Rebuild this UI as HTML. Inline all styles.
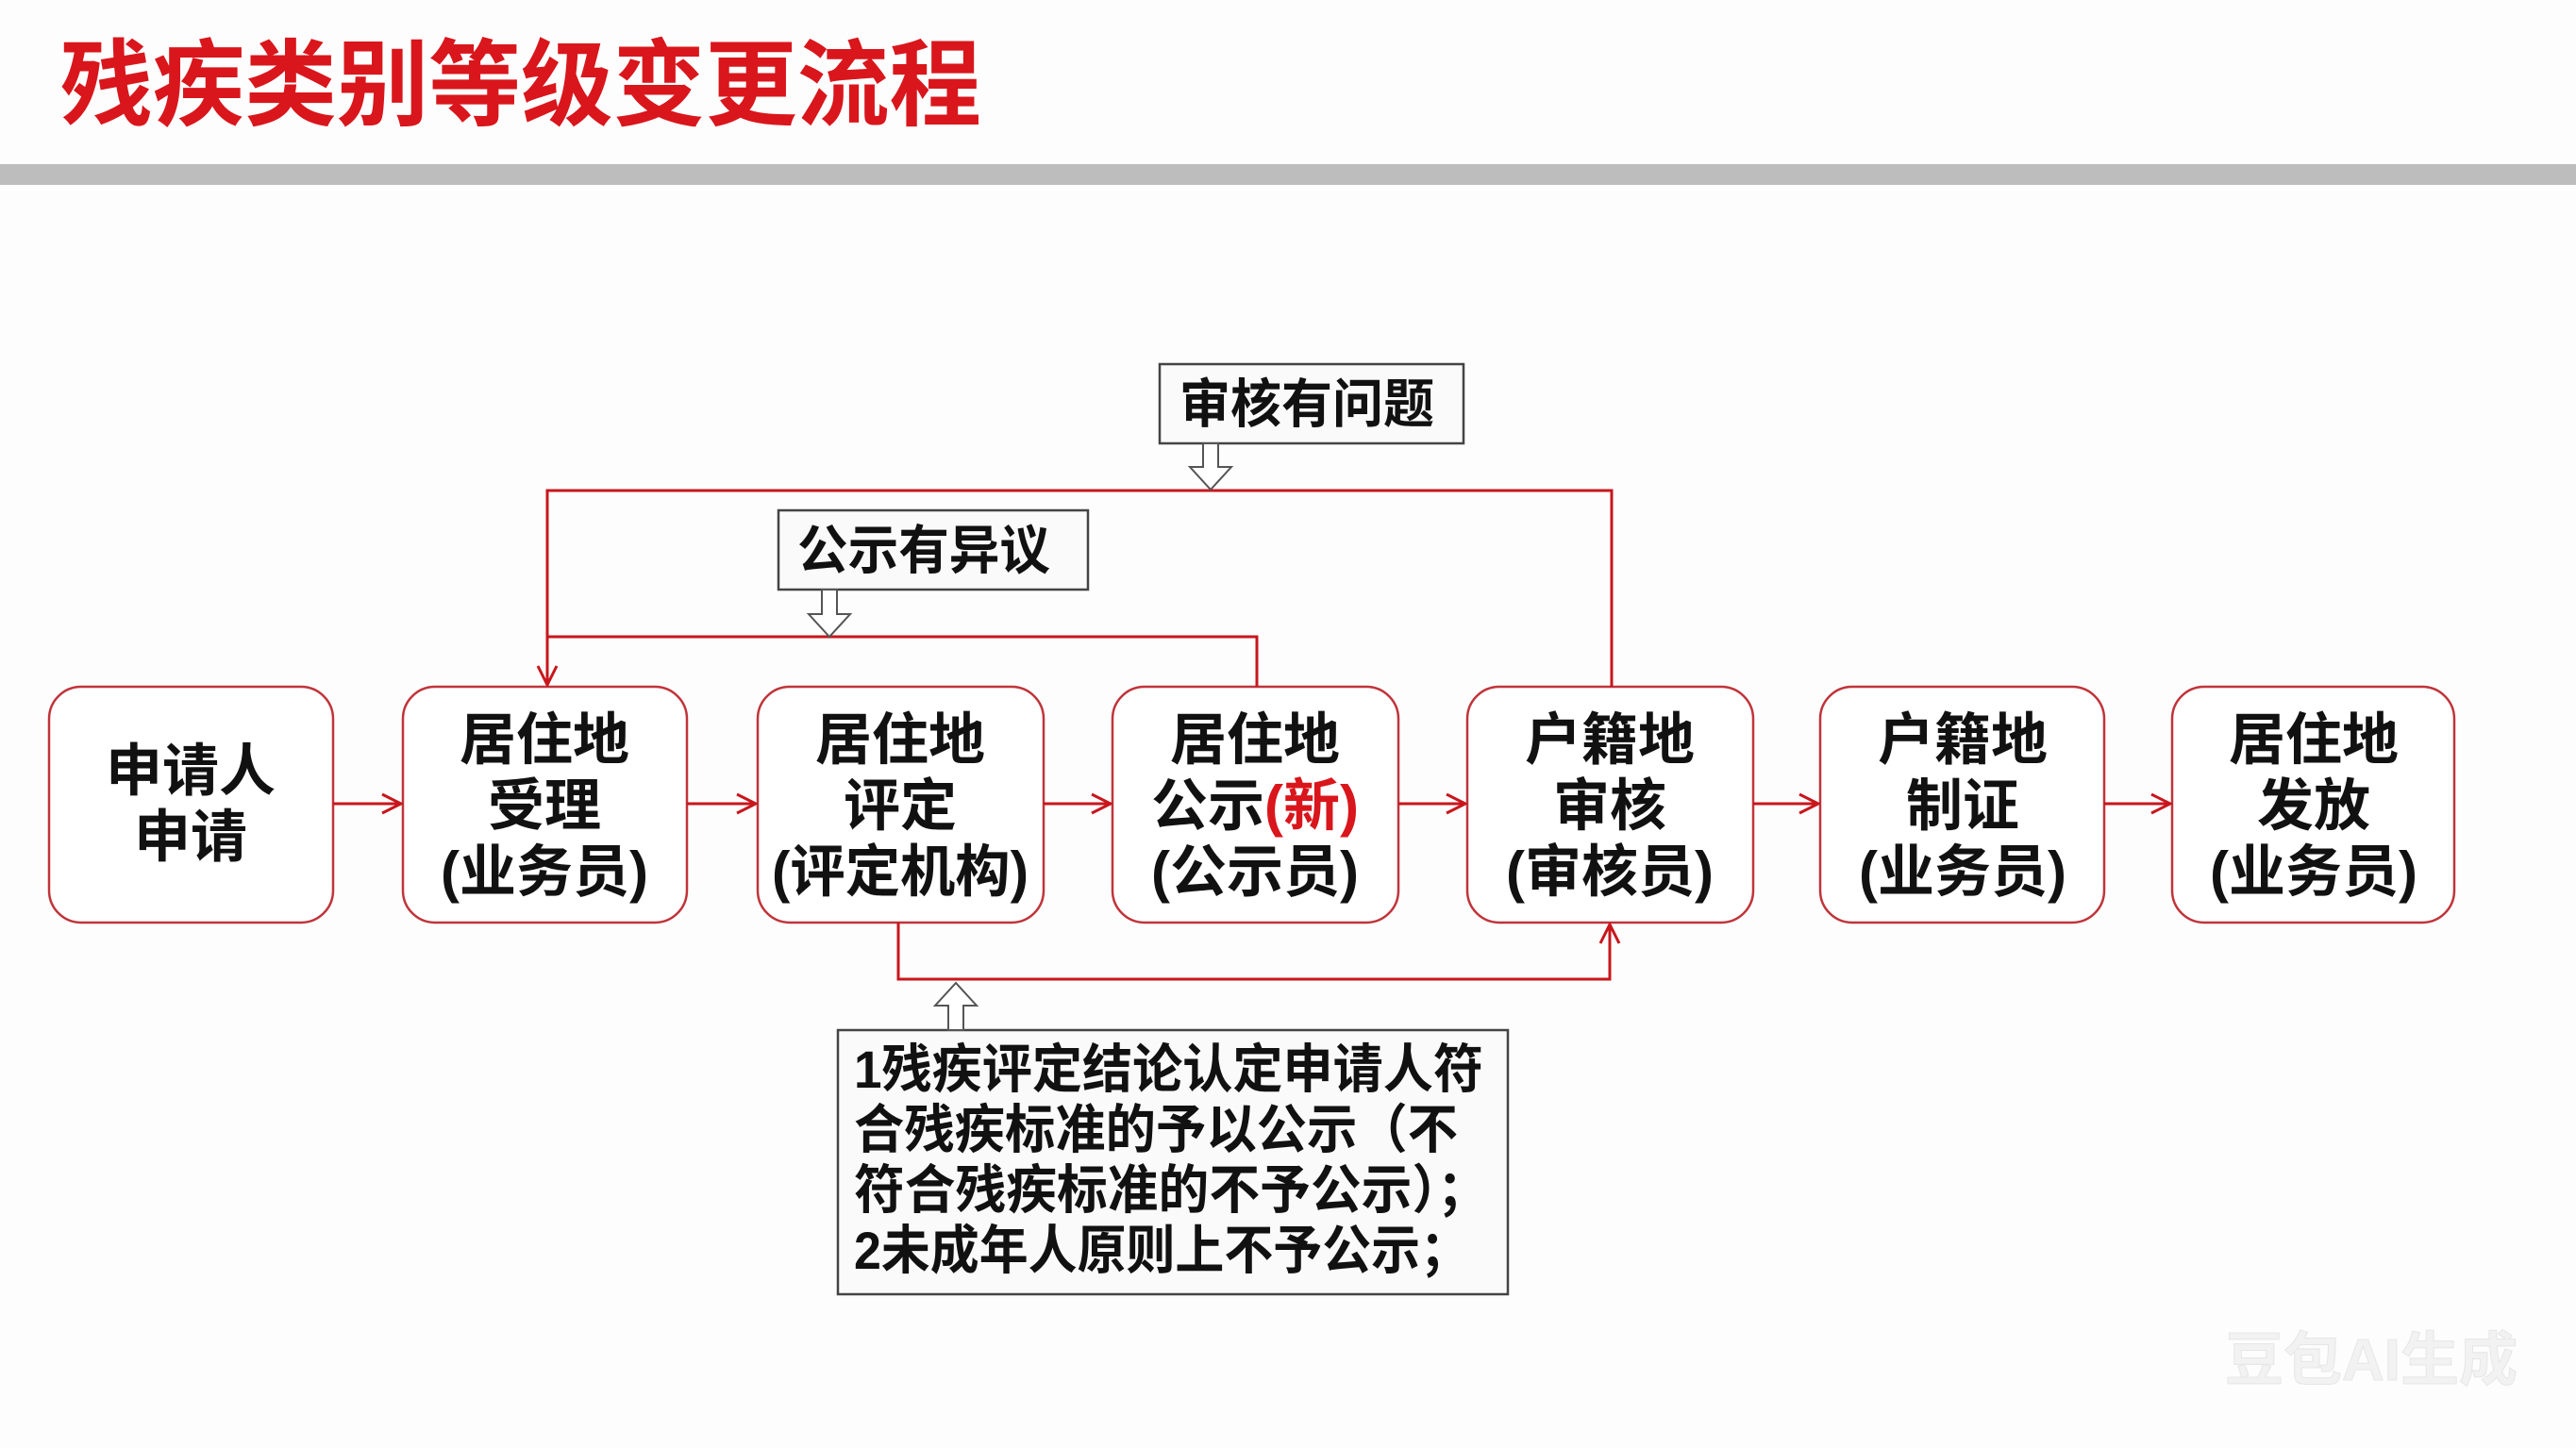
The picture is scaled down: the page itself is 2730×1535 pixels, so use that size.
<!DOCTYPE html>
<html><head><meta charset="utf-8"><style>
html,body{margin:0;padding:0;background:#fff;}
svg{display:block;}
text{font-family:"Liberation Sans","Noto Sans CJK SC",sans-serif;}
</style></head><body>
<svg width="2730" height="1535" viewBox="0 0 2730 1535" xmlns="http://www.w3.org/2000/svg">
<defs>
<marker id="ah" markerWidth="24" markerHeight="24" refX="22" refY="12" orient="auto" markerUnits="userSpaceOnUse">
<path d="M2,2 L22,12 L2,22" fill="none" stroke="#c8161d" stroke-width="3"/>
</marker>
</defs>
<rect width="2730" height="1535" fill="#fdfdfd"/>
<text x="64" y="125" font-size="100" font-weight="bold" fill="#d9161c" textLength="976" lengthAdjust="spacingAndGlyphs">残疾类别等级变更流程</text>
<rect x="0" y="174" width="2730" height="22" fill="#bdbdbd"/>

<g fill="#fff" stroke="#c0343a" stroke-width="2.5">
<rect x="52" y="728" width="301" height="250" rx="34"/>
<rect x="427" y="728" width="301" height="250" rx="34"/>
<rect x="803" y="728" width="303" height="250" rx="34"/>
<rect x="1179" y="728" width="303" height="250" rx="34"/>
<rect x="1555" y="728" width="303" height="250" rx="34"/>
<rect x="1929" y="728" width="301" height="250" rx="34"/>
<rect x="2302" y="728" width="299" height="250" rx="34"/>
</g>
<g font-size="60" font-weight="bold" fill="#111" text-anchor="middle">
<text x="202" y="838">申请人</text><text x="202" y="908">申请</text>
<text x="577" y="805">居住地</text><text x="577" y="875">受理</text><text x="577" y="945">(业务员)</text>
<text x="954" y="805">居住地</text><text x="954" y="875">评定</text><text x="954" y="945" textLength="272" lengthAdjust="spacingAndGlyphs">(评定机构)</text>
<text x="1330" y="805">居住地</text><text x="1330" y="875">公示<tspan fill="#d9161c">(新)</tspan></text><text x="1330" y="945">(公示员)</text>
<text x="1706" y="805">户籍地</text><text x="1706" y="875">审核</text><text x="1706" y="945">(审核员)</text>
<text x="2080" y="805">户籍地</text><text x="2080" y="875">制证</text><text x="2080" y="945">(业务员)</text>
<text x="2452" y="805">居住地</text><text x="2452" y="875">发放</text><text x="2452" y="945">(业务员)</text>
</g>

<g stroke="#c8161d" stroke-width="3" fill="none">
<line x1="353" y1="852" x2="425" y2="852" marker-end="url(#ah)"/>
<line x1="728" y1="852" x2="801" y2="852" marker-end="url(#ah)"/>
<line x1="1106" y1="852" x2="1177" y2="852" marker-end="url(#ah)"/>
<line x1="1482" y1="852" x2="1553" y2="852" marker-end="url(#ah)"/>
<line x1="1858" y1="852" x2="1927" y2="852" marker-end="url(#ah)"/>
<line x1="2230" y1="852" x2="2300" y2="852" marker-end="url(#ah)"/>
<polyline points="1708,728 1708,520 580,520 580,726" marker-end="url(#ah)"/>
<polyline points="1332,728 1332,675 580,675"/>
<polyline points="952,978 952,1038 1706,1038 1706,980" marker-end="url(#ah)"/>
</g>

<g fill="#fafafa" stroke="#444" stroke-width="2.5">
<rect x="1229" y="386" width="322" height="84"/>
<rect x="825" y="541" width="328" height="84"/>
<rect x="888" y="1092" width="710" height="280"/>
</g>
<g fill="#fff" stroke="#555" stroke-width="2">
<path d="M1275,470 L1291,470 L1291,495 L1305,495 L1283,519 L1261,495 L1275,495 Z"/>
<path d="M871,625 L887,625 L887,651 L901,651 L879,675 L857,651 L871,651 Z"/>
<path d="M1005,1092 L1021,1092 L1021,1066 L1035,1066 L1013,1042 L991,1066 L1005,1066 Z"/>
</g>
<g font-weight="bold" fill="#111">
<text x="1250" y="448" font-size="56" textLength="270" lengthAdjust="spacingAndGlyphs">审核有问题</text>
<text x="845" y="603" font-size="56" textLength="268" lengthAdjust="spacingAndGlyphs">公示有异议</text>
<g font-size="56">
<text x="905" y="1153" textLength="667" lengthAdjust="spacingAndGlyphs">1残疾评定结论认定申请人符</text>
<text x="905" y="1217" textLength="640" lengthAdjust="spacingAndGlyphs">合残疾标准的予以公示（不</text>
<text x="905" y="1281" textLength="672" lengthAdjust="spacingAndGlyphs">符合残疾标准的不予公示）；</text>
<text x="905" y="1345" textLength="652" lengthAdjust="spacingAndGlyphs">2未成年人原则上不予公示；</text>
</g>
</g>
<text x="2358" y="1463" font-size="62" font-weight="bold" fill="#f2f2f2" stroke="#e6e6e6" stroke-width="1">豆包AI生成</text>
</svg>
</body></html>
